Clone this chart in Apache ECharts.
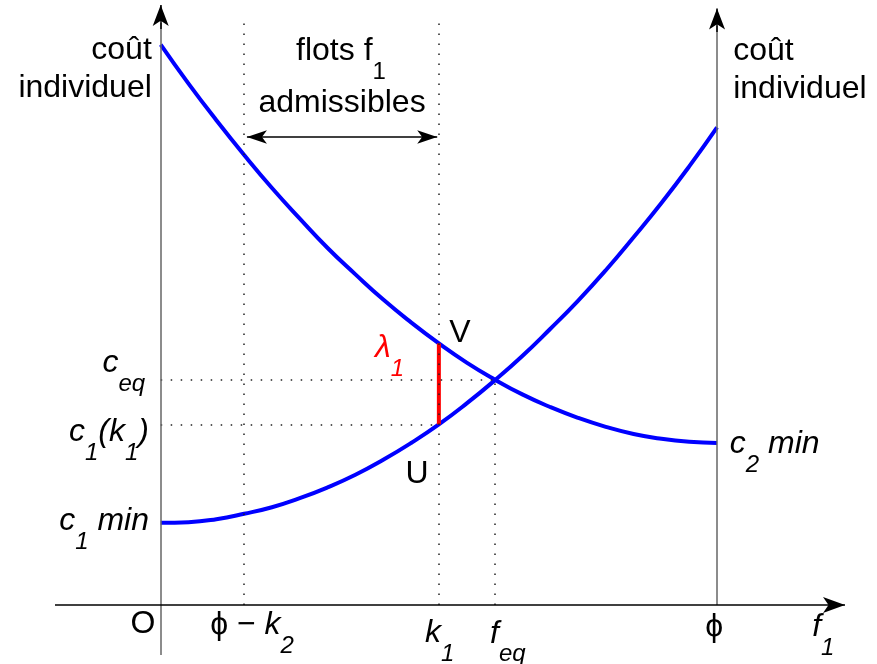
<!DOCTYPE html>
<html><head><meta charset="utf-8">
<script src="https://cdn.jsdelivr.net/npm/echarts@6/dist/echarts.min.js"></script>
<style>html,body{margin:0;padding:0;background:#fff}#c{width:877px;height:664px}</style>
</head><body><div id="c"></div>
<script>
// Flow f1 sample points (0 = O, 100 = phi)
const flowX = [0,5,10,15,20,25,30,35,40,45,50,55,60,65,70,75,80,85,90,95,100];
// Individual cost of route 1 (increasing)
const costC1 = [13.7,13.8,14.3,15.2,16.3,17.8,19.6,21.7,24.2,27.0,30.1,33.6,37.4,41.5,46.0,50.7,55.8,61.3,67.0,73.1,79.6];
// Individual cost of route 2 (decreasing)
const costC2 = [93.4,86.9,80.8,75.0,69.5,64.4,59.5,55.1,50.9,47.1,43.6,40.4,37.6,35.1,33.0,31.2,29.7,28.5,27.7,27.2,27.0];
// Key abscissae
const phiVal = 100;
const phiMinusK2 = 15;
const k1Val = 50;
const fEqVal = 60;
// Key ordinates
const cEqVal = 37.5;
const c1AtK1 = costC1[flowX.indexOf(k1Val)];
const c2AtK1 = costC2[flowX.indexOf(k1Val)];
const guideTop = 97.2;

const fam = '"Liberation Sans", Arial, Helvetica, sans-serif';
const rich = {
  m:  {fontSize:32, fontStyle:'italic', fontFamily:fam, color:'#000', opacity:1},
  u:  {fontSize:32, fontFamily:fam, color:'#000', opacity:1},
  ul: {fontSize:32, fontFamily:fam, color:'#000', lineHeight:38, opacity:1},
  s:  {fontSize:24, fontStyle:'italic', fontFamily:fam, color:'#000', padding:[42,0,0,0], opacity:1},
  su: {fontSize:24, fontFamily:fam, color:'#000', padding:[42,0,0,0], opacity:1},
  rm: {fontSize:32, fontStyle:'italic', fontFamily:fam, color:'#ff0000', opacity:1},
  rs: {fontSize:24, fontStyle:'italic', fontFamily:fam, color:'#ff0000', padding:[42,0,0,0], opacity:1}
};

const labelSpots = [
  {at:[-1.6, 89.3], t:'{ul|coût}\n{ul|individuel}', align:'right'},
  {at:[102.9, 89.2], t:'{ul|coût}\n{ul|individuel}', align:'left'},
  {at:[32.4, 92.3], t:'{u|flots f}{su|1}', align:'center'},
  {at:[32.6, 83.7], t:'{u|admissibles}', align:'center'},
  {at:[k1Val + 3.8, c2AtK1 + 1.7], t:'{u|V}', align:'center'},
  {at:[k1Val - 3.9, 21.8], t:'{u|U}', align:'center'},
  {at:[38.5, 42.8], t:'{rm|λ}{rs|1}', align:'left'},
  {at:[-2.8, 40.3], t:'{m|c}{s|eq}', align:'right'},
  {at:[-2.1, 28.8], t:'{m|c}{s|1}{m|(k}{s|1}{m|)}', align:'right'},
  {at:[-2.1, 14.0], t:'{m|c}{s|1}{m| min}', align:'right'},
  {at:[102.3, 26.8], t:'{m|c}{s|2}{m| min}', align:'left'},
  {at:[-3.2, -3.2], t:'{u|O}', align:'center'},
  {at:[8.9, -3.4], t:'{u|ϕ − }{m|k}{s|2}', align:'left'},
  {at:[47.5, -4.7], t:'{m|k}{s|1}', align:'left'},
  {at:[59.2, -4.8], t:'{m|f}{s|eq}', align:'left'},
  {at:[99.5, -3.7], t:'{u|ϕ}', align:'center'},
  {at:[117.1, -3.7], t:'{m|f}{s|1}', align:'left'}
];

const dotted = {type:[1.5, 8.5], color:'#222', width:1.5};
function seg(a, b, style, s0, s1, size) {
  return [
    {coord:a, symbol:s0 || 'none', symbolSize:size || [12, 21], lineStyle:style},
    {coord:b, symbol:s1 || 'none', symbolSize:size || [12, 21]}
  ];
}
const axisStyle = {type:'solid', color:'#000', width:1.5};
const vAxisStyle = {type:'solid', color:'#666', width:1.5};

const option = {
  animation:false,
  backgroundColor:'#fff',
  grid:{left:55, right:32, top:5, bottom:9},
  xAxis:{type:'value', min:-19, max:123, show:false},
  yAxis:{type:'value', min:-50/6, max:100, show:false},
  series:[
    {
      type:'line', data:[], silent:true,
      markLine:{
        silent:true, animation:false,
        label:{show:false}, emphasis:{disabled:true},
        data:[
          seg([phiMinusK2, 0], [phiMinusK2, guideTop], dotted),
          seg([k1Val, 0], [k1Val, guideTop], dotted),
          seg([fEqVal, 0], [fEqVal, cEqVal], dotted),
          seg([0, cEqVal], [fEqVal, cEqVal], dotted),
          seg([0, c1AtK1], [k1Val, c1AtK1], dotted),
          seg([0, -50/6], [0, 97.0], vAxisStyle),
          seg([phiVal, 0], [phiVal, 96.5], vAxisStyle),
          seg([0, 96.0], [0, 100], axisStyle, 'none', 'arrow', [12, 21]),
          seg([phiVal, 95.5], [phiVal, 99.4], axisStyle, 'none', 'arrow', [12, 21]),
          seg([-19, 0], [123, 0], axisStyle, 'none', 'arrow', [12, 22]),
          seg([15.5, 78], [49.7, 78], {type:'solid', color:'#000', width:1.5}, 'arrow', 'arrow', [10, 20])
        ]
      }
    },
    {
      type:'line', name:'c1', silent:true, symbol:'none', smooth:true,
      data:flowX.map((x, i) => [x, costC1[i]]),
      lineStyle:{color:'#0000ff', width:4}
    },
    {
      type:'line', name:'c2', silent:true, symbol:'none', smooth:true,
      data:flowX.map((x, i) => [x, costC2[i]]),
      lineStyle:{color:'#0000ff', width:4}
    },
    {
      type:'line', name:'lambda', silent:true, symbol:'none',
      data:[[k1Val, c1AtK1], [k1Val, c2AtK1]],
      lineStyle:{color:'#ff0000', width:4}
    },
    {
      type:'scatter', silent:true, symbolSize:0,
      itemStyle:{opacity:1},
      data:labelSpots.map(l => ({
        value:l.at,
        label:{show:true, position:'inside', align:l.align, verticalAlign:'middle', opacity:1,
               formatter:() => l.t, rich:rich}
      }))
    }
  ]
};
const chart = echarts.init(document.getElementById('c'));
chart.setOption(option);
</script>
</body></html>
